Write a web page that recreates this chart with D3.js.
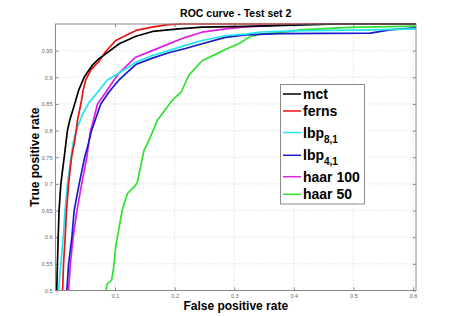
<!DOCTYPE html>
<html>
<head>
<meta charset="utf-8">
<script src="https://cdn.jsdelivr.net/npm/d3@7"></script>
<style>
  body { margin: 0; background: #fff; }
  svg { display: block; }
</style>
</head>
<body>
<svg id="svg" width="458" height="316"></svg>
<script>
// ROC curve - Test set 2

const xTicks = [0.1, 0.2, 0.3, 0.4, 0.5, 0.6];
const yTicks = [0.5, 0.55, 0.6, 0.65, 0.7, 0.75, 0.8, 0.85, 0.9, 0.95];

const mctFpr = [0.002, 0.0045, 0.006, 0.009, 0.0146, 0.020, 0.024, 0.030, 0.034, 0.039, 0.048, 0.062, 0.073, 0.082, 0.107, 0.135, 0.163, 0.207, 0.246, 0.32, 0.40, 0.475, 0.605];
const mctTpr = [0.50, 0.60, 0.65, 0.70, 0.75, 0.80, 0.82, 0.842, 0.857, 0.876, 0.90, 0.923, 0.935, 0.942, 0.963, 0.977, 0.986, 0.991, 0.994, 0.9955, 0.998, 1.0, 1.0];

const fernsFpr = [0.0119, 0.0135, 0.0162, 0.0185, 0.022, 0.027, 0.0325, 0.037, 0.041, 0.0437, 0.0464, 0.051, 0.060, 0.073, 0.084, 0.101, 0.135, 0.1625, 0.185, 0.21, 0.605];
const fernsTpr = [0.50, 0.55, 0.60, 0.65, 0.70, 0.75, 0.782, 0.82, 0.842, 0.857, 0.876, 0.896, 0.915, 0.930, 0.948, 0.969, 0.988, 0.994, 0.9985, 1.0, 1.0];

const lbp81Fpr = [0.005, 0.009, 0.013, 0.016, 0.020, 0.026, 0.030, 0.037, 0.046, 0.056, 0.0705, 0.087, 0.1066, 0.1346, 0.1625, 0.19, 0.218, 0.246, 0.285, 0.319, 0.344, 0.40, 0.528, 0.605];
const lbp81Tpr = [0.50, 0.55, 0.60, 0.65, 0.70, 0.75, 0.78, 0.807, 0.832, 0.852, 0.872, 0.895, 0.908, 0.928, 0.941, 0.95, 0.96, 0.969, 0.978, 0.981, 0.985, 0.987, 0.989, 0.991];

const lbp41Fpr = [0.019, 0.022, 0.0275, 0.0313, 0.0397, 0.049, 0.054, 0.0604, 0.076, 0.090, 0.1066, 0.1346, 0.1625, 0.19, 0.218, 0.246, 0.285, 0.319, 0.377, 0.528, 0.5615, 0.605];
const lbp41Tpr = [0.50, 0.55, 0.60, 0.65, 0.70, 0.75, 0.77, 0.80, 0.85, 0.873, 0.895, 0.924, 0.936, 0.946, 0.954, 0.963, 0.975, 0.9795, 0.982, 0.983, 0.989, 0.993];

const haar100Fpr = [0.022, 0.025, 0.0296, 0.036, 0.044, 0.0526, 0.058, 0.0705, 0.0844, 0.097, 0.1066, 0.1346, 0.1625, 0.19, 0.218, 0.246, 0.285, 0.319, 0.38, 0.44, 0.605];
const haar100Tpr = [0.50, 0.55, 0.60, 0.65, 0.70, 0.75, 0.795, 0.85, 0.872, 0.893, 0.908, 0.9377, 0.950, 0.9627, 0.975, 0.9846, 0.991, 0.9946, 0.998, 1.0, 1.0];

const haar50Fpr = [0.0844, 0.087, 0.094, 0.097, 0.101, 0.112, 0.1207, 0.1346, 0.1374, 0.1485, 0.157, 0.171, 0.196, 0.211, 0.224, 0.246, 0.2685, 0.285, 0.3075, 0.319, 0.327, 0.344, 0.394, 0.41, 0.494, 0.605];
const haar50Tpr = [0.50, 0.513, 0.519, 0.538, 0.582, 0.651, 0.682, 0.6976, 0.704, 0.763, 0.782, 0.8195, 0.857, 0.8726, 0.904, 0.931, 0.943, 0.952, 0.963, 0.971, 0.9765, 0.981, 0.986, 0.989, 0.9935, 0.996];

const seriesNames = ["mct", "ferns", "lbp", "lbp", "haar 100", "haar 50"];
const seriesSubs = ["", "", "8,1", "4,1", "", ""];
const seriesFpr = [mctFpr, fernsFpr, lbp81Fpr, lbp41Fpr, haar100Fpr, haar50Fpr];
const seriesTpr = [mctTpr, fernsTpr, lbp81Tpr, lbp41Tpr, haar100Tpr, haar50Tpr];
const seriesColors = ["#000000", "#ee1111", "#1ee6ee", "#1a1acd", "#e11ee1", "#2ee22e"];

var width = 458;
var height = 316;
var margin = {top: 24, right: 42, bottom: 25.5, left: 55.5};
var font = "'Liberation Sans', Arial, sans-serif";

var x = d3.scaleLinear()
  .domain([0, 0.605])
  .range([margin.left, width - margin.right]);

var y = d3.scaleLinear()
  .domain([0.5, 1])
  .range([height - margin.bottom, margin.top]);

var svg = d3.select("#svg")
  .attr("viewBox", [0, 0, width, height])
  .style("font-family", font);

// dotted grid
svg.append("g")
    .attr("stroke", "#c8c8c8")
    .attr("stroke-width", 0.8)
    .attr("stroke-dasharray", "1,2")
  .selectAll("line")
  .data(xTicks)
  .join("line")
    .attr("x1", d => x(d)).attr("x2", d => x(d))
    .attr("y1", y(0.5)).attr("y2", y(1));

svg.append("g")
    .attr("stroke", "#c8c8c8")
    .attr("stroke-width", 0.8)
    .attr("stroke-dasharray", "1,2")
  .selectAll("line")
  .data(yTicks.slice(1))
  .join("line")
    .attr("x1", x(0)).attr("x2", x(0.605))
    .attr("y1", d => y(d)).attr("y2", d => y(d));

// axes (ticks point inward, MATLAB style)
svg.append("g")
    .attr("transform", "translate(0," + y(0.5) + ")")
    .call(d3.axisBottom(x).tickValues(xTicks).tickSizeInner(-3).tickSizeOuter(0).tickPadding(3.5).tickFormat(d => String(d)));

svg.append("g")
    .attr("transform", "translate(" + x(0) + ",0)")
    .call(d3.axisLeft(y).tickValues(yTicks).tickSizeInner(-3).tickSizeOuter(0).tickPadding(3).tickFormat(d => String(d)));

svg.append("g")
    .attr("transform", "translate(0," + y(1) + ")")
    .call(d3.axisTop(x).tickValues(xTicks).tickSizeInner(-3).tickSizeOuter(0).tickFormat(""));

svg.append("g")
    .attr("transform", "translate(" + x(0.605) + ",0)")
    .call(d3.axisRight(y).tickValues(yTicks).tickSizeInner(-3).tickSizeOuter(0).tickFormat(""));

svg.selectAll(".domain").remove();
svg.selectAll(".tick line").attr("stroke", "#888");
svg.selectAll(".tick text")
    .attr("fill", "#666")
    .style("font-size", "5.5px")
    .style("font-family", font);

svg.append("clipPath")
    .attr("id", "plotClip")
  .append("rect")
    .attr("x", x(0)).attr("y", y(1) - 1)
    .attr("width", x(0.605) - x(0))
    .attr("height", y(0.5) - y(1) + 1);

var line = d3.line()
  .x(d => x(d[0]))
  .y(d => y(d[1]));

svg.append("g")
    .attr("clip-path", "url(#plotClip)")
    .attr("fill", "none")
    .attr("stroke-width", 1.7)
    .attr("stroke-linejoin", "round")
  .selectAll("path")
  .data(d3.range(seriesNames.length).reverse()) // draw green first, black on top
  .join("path")
    .attr("stroke", i => seriesColors[i])
    .attr("d", i => line(d3.zip(seriesFpr[i], seriesTpr[i])));

// axes box
svg.append("rect")
    .attr("x", x(0)).attr("y", y(1))
    .attr("width", x(0.605) - x(0))
    .attr("height", y(0.5) - y(1))
    .attr("fill", "none")
    .attr("stroke", "#8a8a8a")
    .attr("stroke-width", 1);

// title and labels
svg.append("text")
    .attr("x", (x(0) + x(0.605)) / 2)
    .attr("y", 17)
    .attr("text-anchor", "middle")
    .style("font-size", "10.5px")
    .style("font-weight", "bold")
    .text("ROC curve - Test set 2");

svg.append("text")
    .attr("x", (x(0) + x(0.605)) / 2)
    .attr("y", 310)
    .attr("text-anchor", "middle")
    .style("font-size", "12px")
    .style("font-weight", "bold")
    .text("False positive rate");

svg.append("text")
    .attr("transform", "translate(38.5," + ((y(0.5) + y(1)) / 2) + ") rotate(-90)")
    .attr("text-anchor", "middle")
    .style("font-size", "12px")
    .style("font-weight", "bold")
    .text("True positive rate");

// legend
var legendRowY = [94, 111, 132.5, 155.3, 176.7, 194.3];
var legend = svg.append("g");

legend.append("rect")
    .attr("x", 280.5).attr("y", 84.5)
    .attr("width", 84).attr("height", 119.5)
    .attr("fill", "#fff")
    .attr("stroke", "#8a8a8a");

var rows = legend.selectAll("g.row")
  .data(d3.range(seriesNames.length))
  .join("g")
    .attr("class", "row")
    .attr("transform", i => "translate(0," + legendRowY[i] + ")");

rows.append("line")
    .attr("x1", 283).attr("x2", 301)
    .attr("stroke", i => seriesColors[i])
    .attr("stroke-width", 1.5);

var labels = rows.append("text")
    .attr("x", 303)
    .attr("y", 5)
    .style("font-size", "14px")
    .style("font-weight", "bold")
    .text(i => seriesNames[i]);

labels.filter(i => seriesSubs[i] !== "")
  .append("tspan")
    .attr("dy", 5)
    .style("font-size", "10px")
    .text(i => seriesSubs[i]);
</script>
</body>
</html>
